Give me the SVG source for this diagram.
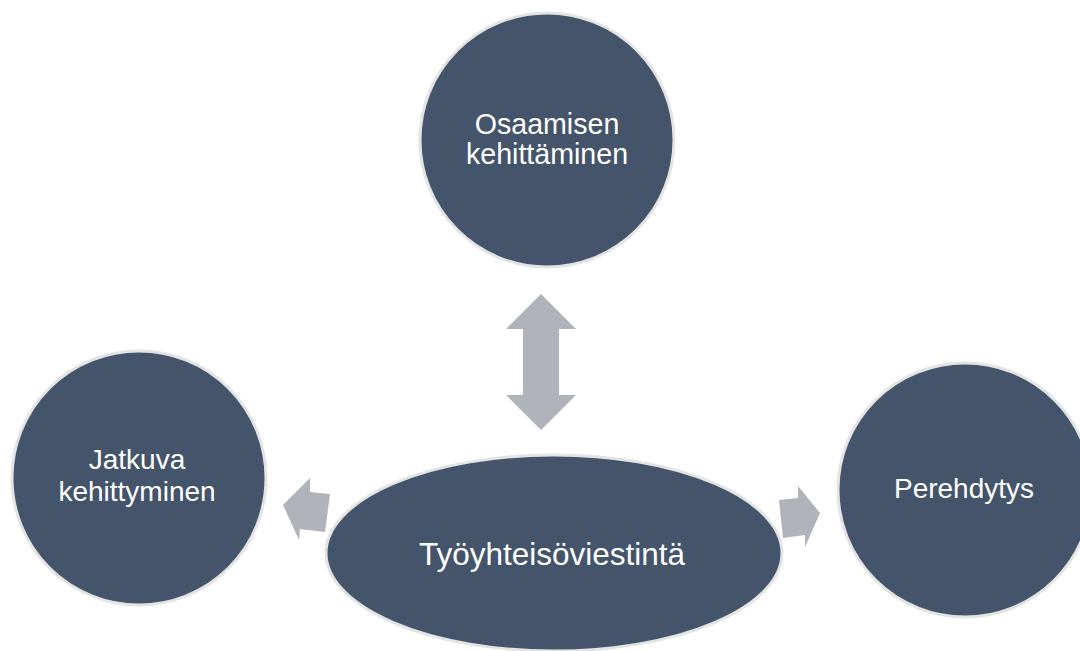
<svg xmlns="http://www.w3.org/2000/svg" width="1080" height="651" viewBox="0 0 1080 651">
  <style>
    .node { fill: #44546a; stroke: #e4e4e4; stroke-width: 3; }
    .label { fill: #ffffff; font-family: "Liberation Sans", Arial, sans-serif; font-size: 28px; text-anchor: middle; }
    .arrow { fill: #b0b3b9; stroke: none; }
  </style>
  <rect width="1080" height="651" fill="#ffffff"/>

  <!-- connectors -->
  <g id="connectors">
    <polygon class="arrow" points="541,294 576,329 559,329 559,395 576,395 541,430 506,395 523,395 523,329 506,329"/>
    <polygon class="arrow" points="283,505 310,478 310,492 330,494 325,532 300,529 299,540"/>
    <polygon class="arrow" points="779,500 798,498 798,486 820,513 805,547 805,535 783,538"/>
  </g>

  <g id="node-osaamisen">
    <circle class="node" cx="547" cy="140" r="127"/>
    <text class="label" x="547" y="133.5" style="font-size:28.6px">Osaamisen</text>
    <text class="label" x="547" y="164" style="font-size:28.6px">kehittäminen</text>
  </g>

  <g id="node-jatkuva">
    <circle class="node" cx="139" cy="478" r="127"/>
    <text class="label" x="137" y="469">Jatkuva</text>
    <text class="label" x="137" y="501">kehittyminen</text>
  </g>

  <g id="node-perehdytys">
    <circle class="node" cx="965" cy="490" r="127"/>
    <text class="label" x="964" y="498">Perehdytys</text>
  </g>

  <g id="node-tyoyhteisoviestinta">
    <ellipse class="node" cx="554" cy="553" rx="228" ry="98"/>
    <text class="label" x="552" y="565" style="font-size:31.5px">Työyhteisöviestintä</text>
  </g>
</svg>
